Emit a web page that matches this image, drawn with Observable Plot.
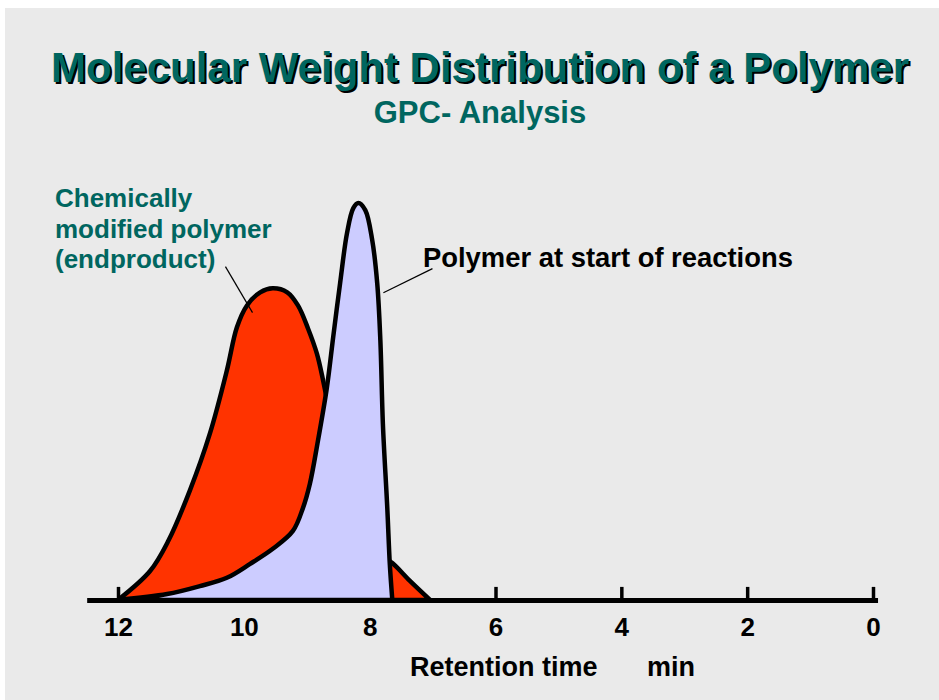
<!DOCTYPE html>
<html>
<head>
<meta charset="utf-8">
<script src="https://cdn.jsdelivr.net/npm/d3@7"></script>
<script src="https://cdn.jsdelivr.net/npm/@observablehq/plot@0.6"></script>
<style>
  html, body { margin: 0; padding: 0; background: #ffffff; }
  #page { position: relative; width: 939px; height: 700px; overflow: hidden; font-family: "Liberation Sans", Arial, sans-serif; }
  #panel { position: absolute; left: 5px; top: 8px; right: 0; bottom: 0; background: #eaeaea; }
  .t { position: absolute; font-weight: bold; white-space: nowrap; line-height: 1; }
  #title { left: 0; width: 960px; text-align: center; top: 47px; font-size: 42px; color: #006660; text-shadow: 2px 2px 0 #000; }
  #subtitle { left: 0; width: 960px; text-align: center; top: 97px; font-size: 31px; color: #006660; }
  #modLabel { left: 55px; top: 183px; font-size: 26px; line-height: 30.5px; color: #006660; }
  #startLabel { left: 423px; top: 244px; font-size: 27.4px; color: #000; }
  #xLabel { left: 410px; top: 654px; font-size: 27px; color: #000; }
  #xUnit { left: 647px; top: 654px; font-size: 27px; color: #000; }
  #chart { position: absolute; left: 0; top: 0; }
</style>
</head>
<body>
<div id="page">
  <div id="panel"></div>
  <div id="chart"></div>
  <div class="t" id="title">Molecular Weight Distribution of a Polymer</div>
  <div class="t" id="subtitle">GPC- Analysis</div>
  <div class="t" id="modLabel">Chemically<br>modified polymer<br>(endproduct)</div>
  <div class="t" id="startLabel">Polymer at start of reactions</div>
  <div class="t" id="xLabel">Retention time</div>
  <div class="t" id="xUnit">min</div>
</div>
<script>
// Tick labels of the retention-time axis (min)
const retentionTicks = [12, 10, 8, 6, 4, 2, 0];

// Chemically modified polymer (endproduct): retention time (min) and relative signal
const modifiedTime   = [12.0, 11.49, 11.20, 10.86, 10.54, 10.27, 10.11, 9.95, 9.74, 9.54, 9.31, 9.14, 8.98, 8.84, 8.74, 8.55, 8.31, 8.07, 7.85, 7.64, 7.36, 7.04];
const modifiedSignal = [0,    7.3,   14.9,  27.5,  41.9,  57.8,  68.7,  74.2, 77.5, 78.5, 77.5, 74.2, 68.4, 62.1, 55.3, 40.2, 25.0, 16.2, 11.6, 9.3,  4.8,  0];

// Polymer at start of reactions: retention time (min) and relative signal
const startTime   = [12.0, 11.22, 10.70, 10.27, 9.90, 9.54, 9.22, 9.06, 8.95, 8.83, 8.68, 8.58, 8.47, 8.36, 8.26, 8.18, 8.07, 7.96, 7.88, 7.83, 7.79, 7.72, 7.68, 7.64];
const startSignal = [0,    1.5,   3.5,   5.6,   9.1,  12.9, 17.4, 23.2, 29.3, 39.4, 53.5, 66.2, 79.8, 92.4, 98.7, 100,  98.2, 90.7, 79.8, 65.4, 44.4, 23.2, 9.1,  0];

// Leader lines of the two annotations (from label to curve), in data units
const leaderTimeFrom   = [10.30, 7.01];
const leaderSignalFrom = [84.1, 83.6];
const leaderTimeTo     = [9.87, 7.79];
const leaderSignalTo   = [72.5, 77.5];

// Extent of the drawn axis line
const axisFrom = 12.49;
const axisTo = -0.08;

const modified = modifiedTime.map((t, i) => ({t, v: modifiedSignal[i]}));
const start = startTime.map((t, i) => ({t, v: startSignal[i]}));
const leaders = leaderTimeFrom.map((t, i) => ({x1: t, y1: leaderSignalFrom[i], x2: leaderTimeTo[i], y2: leaderSignalTo[i]}));

const chart = Plot.plot({
  width: 939,
  height: 700,
  marginLeft: 118,
  marginRight: 66,
  marginTop: 203,
  marginBottom: 100,
  x: {domain: [12, 0], axis: null},
  y: {domain: [0, 100], axis: null},
  style: {background: "transparent", overflow: "visible", fontFamily: "'Liberation Sans', Arial, sans-serif"},
  marks: [
    Plot.ruleX(retentionTicks, {x: d => d, y1: 0, y2: 3.3, stroke: "#000", strokeWidth: 3.5}),
    Plot.areaY(modified, {x: "t", y: "v", fill: "#ff3300", stroke: "#000", strokeWidth: 4.5, strokeLinejoin: "round", curve: "catmull-rom"}),
    Plot.areaY(start, {x: "t", y: "v", fill: "#ccccff", stroke: "#000", strokeWidth: 4.5, strokeLinejoin: "round", curve: "catmull-rom"}),
    Plot.ruleY([0], {x1: axisFrom, x2: axisTo, stroke: "#000", strokeWidth: 5}),
    Plot.text(retentionTicks, {x: d => d, y: 0, dy: 27, text: d => String(d), fontSize: 26, fontWeight: "bold", fill: "#000"}),
    Plot.link(leaders, {x1: "x1", y1: "y1", x2: "x2", y2: "y2", stroke: "#000", strokeWidth: 1.2})
  ]
});
document.getElementById("chart").appendChild(chart);
</script>
</body>
</html>
